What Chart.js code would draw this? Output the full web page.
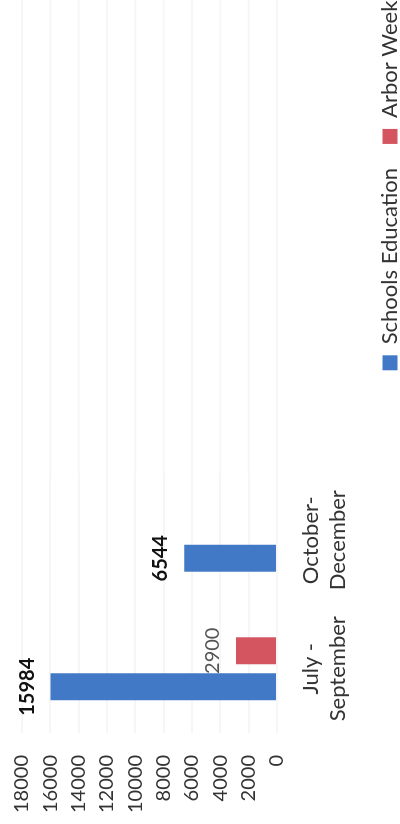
<!DOCTYPE html>
<html>
<head>
<meta charset="utf-8">
<script src="https://cdn.jsdelivr.net/npm/chart.js@4.4.0/dist/chart.umd.min.js"></script>
<style>
  html, body { margin: 0; padding: 0; background: #fff; width: 400px; height: 824px; overflow: hidden; }
  /* the chart is laid out landscape and turned a quarter turn counter-clockwise */
  #frame {
    position: absolute; left: 0; top: 0;
    width: 824px; height: 400px; overflow: hidden;
    transform-origin: 0 0;
    transform: translate(0, 824px) rotate(-90deg);
  }
  canvas { display: block; }
</style>
</head>
<body>
<div id="frame"><canvas id="chart" width="1266" height="411"></canvas></div>
<script>
// Quarters shown on the category axis
const quarters = [['July -', 'September'], ['October-', 'December']];
// Participants per programme
const schoolsEducation = [15984, 6544];
const arborWeek = [2900, null];
// Value axis
const valueMin = 0;
const valueMax = 18000;
const valueStep = 2000;

const GRID = 'rgba(0,0,0,0.035)';

Chart.defaults.font.family = 'Lato, "Open Sans", sans-serif';
Chart.defaults.font.size = 20;
Chart.defaults.color = '#333333';

// Value labels above each bar
const valueLabels = {
  id: 'valueLabels',
  afterDatasetsDraw(chart) {
    const ctx = chart.ctx;
    chart.data.datasets.forEach((ds, i) => {
      const meta = chart.getDatasetMeta(i);
      meta.data.forEach((bar, j) => {
        const v = ds.data[j];
        if (v === null || v === undefined) return;
        ctx.save();
        ctx.font = ds.valueFont;
        ctx.fillStyle = ds.valueColor;
        ctx.textAlign = 'center';
        ctx.textBaseline = 'alphabetic';
        ctx.fillText(String(v), bar.x, bar.y - 17);
        ctx.restore();
      });
    });
  }
};

// Carry the value grid lines on past the plot area to the edge of the canvas
const gridRun = {
  id: 'gridRun',
  beforeDatasetsDraw(chart) {
    const s = chart.scales.y;
    const ctx = chart.ctx;
    ctx.save();
    ctx.strokeStyle = GRID;
    ctx.lineWidth = 2;
    s.ticks.forEach(t => {
      const py = s.getPixelForValue(t.value);
      ctx.beginPath();
      ctx.moveTo(chart.chartArea.right, py);
      ctx.lineTo(chart.width, py);
      ctx.stroke();
    });
    ctx.restore();
  }
};

new Chart(document.getElementById('chart'), {
  type: 'bar',
  data: {
    labels: quarters,
    datasets: [
      {
        label: 'Schools Education',
        data: schoolsEducation,
        backgroundColor: '#4279c6',
        yAxisID: 'y',
        valueFont: 'bold 20px Lato, sans-serif',
        valueColor: '#111111'
      },
      {
        label: 'Arbor Week',
        data: arborWeek,
        backgroundColor: '#d4545f',
        yAxisID: 'y',
        valueFont: '20px Lato, sans-serif',
        valueColor: '#555555'
      }
    ]
  },
  options: {
    responsive: false,
    animation: false,
    devicePixelRatio: 1,
    layout: { padding: { left: 11, top: 22, right: 0, bottom: 0 } },
    datasets: { bar: { categoryPercentage: 0.56, barPercentage: 0.75 } },
    scales: {
      x: {
        grid: { display: false, drawTicks: false },
        border: { display: false },
        ticks: { padding: 20, font: { size: 22, lineHeight: 1.25 }, color: '#333333', maxRotation: 0 },
        afterFit(scale) { scale.height = 78; }
      },
      y: {
        min: valueMin,
        max: valueMax,
        grid: { color: GRID, lineWidth: 2, drawTicks: true, tickLength: 22, tickColor: 'rgba(0,0,0,0)' },
        border: { display: false },
        ticks: {
          stepSize: valueStep,
          padding: 0,
          autoSkip: false,
          color: '#333333',
          callback: (v) => String(v)
        }
      },
      room: {
        type: 'linear',
        position: 'right',
        grid: { display: false, drawTicks: false },
        border: { display: false },
        ticks: { display: false },
        afterFit(scale) { scale.width = 918; }
      }
    },
    plugins: {
      legend: {
        position: 'bottom',
        labels: { boxWidth: 15, boxHeight: 15, padding: 24, font: { size: 22 }, color: '#333333' }
      },
      tooltip: { enabled: false }
    }
  },
  plugins: [gridRun, valueLabels]
});
</script>
</body>
</html>
